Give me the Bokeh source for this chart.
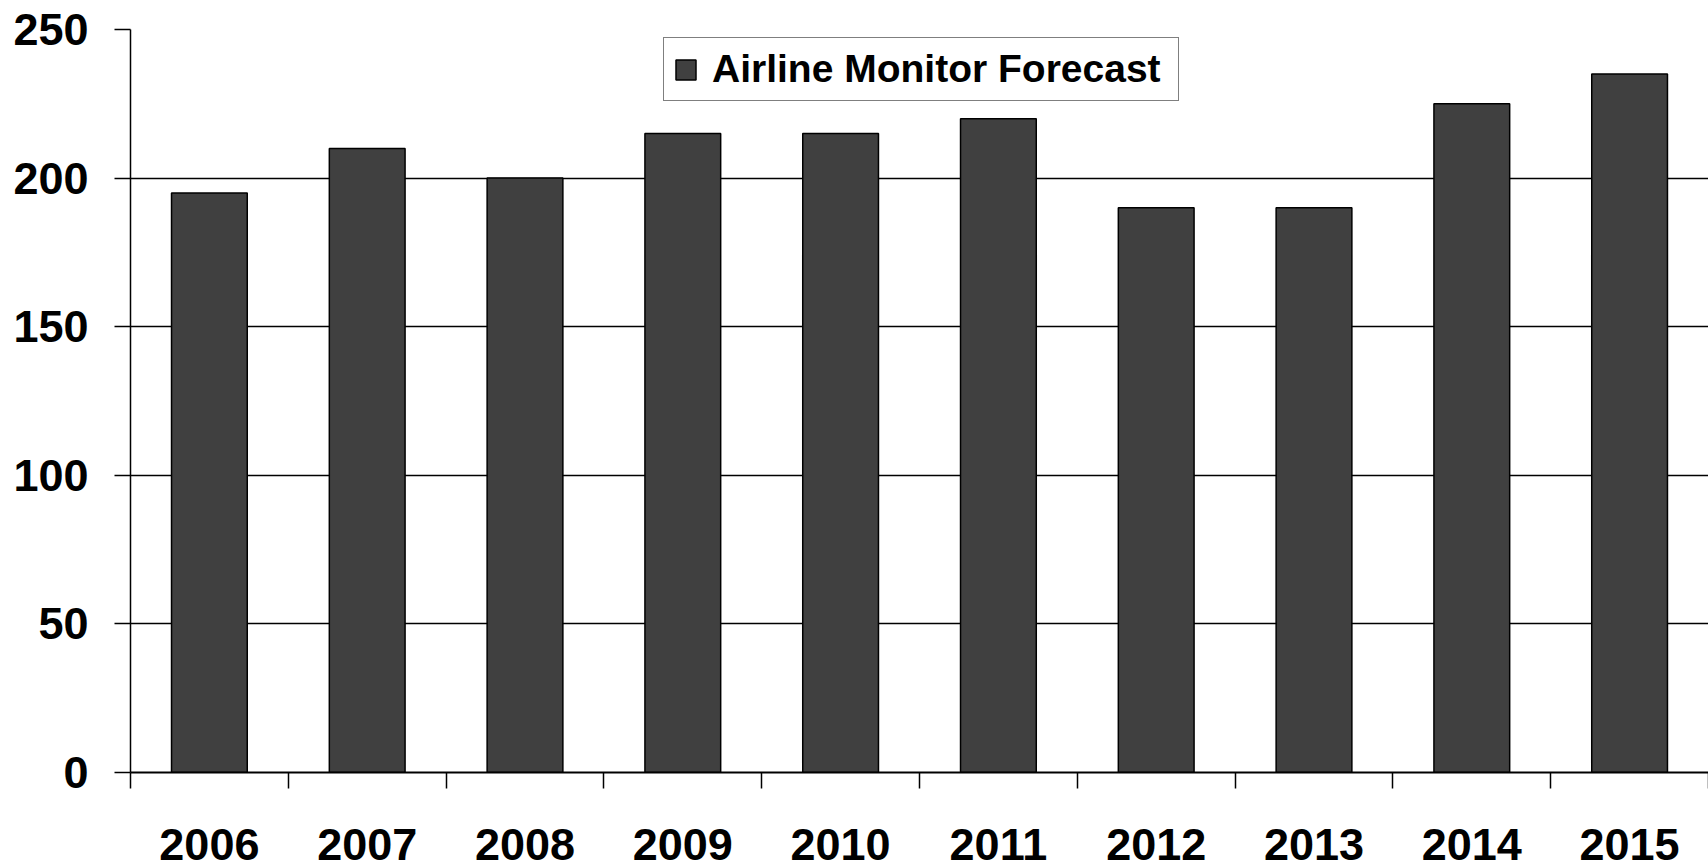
from bokeh.plotting import figure
from bokeh.models import FixedTicker, Range1d, Legend, LegendItem, ColumnDataSource
from bokeh.embed import file_html
from bokeh.resources import INLINE

# Forecast values per year
years = ["2006", "2007", "2008", "2009", "2010", "2011", "2012", "2013", "2014", "2015"]
forecast = [195, 210, 200, 215, 215, 220, 190, 190, 225, 235]
y_ticks = [0, 50, 100, 150, 200, 250]
series_name = "Airline Monitor Forecast"

FONT = "Liberation Sans"
n = len(years)
centers = [i + 0.5 for i in range(n)]
bounds = list(range(n + 1))

src = ColumnDataSource(dict(x=centers, top=forecast, year=years))

p = figure(
    width=1708, height=866,
    x_range=Range1d(0, n), y_range=Range1d(0, 250),
    output_backend="svg", toolbar_location=None,
    min_border_left=130, min_border_right=0,
    min_border_top=29, min_border_bottom=94,
)
p.outline_line_color = None
p.background_fill_color = "white"
p.border_fill_color = "white"

bars = p.vbar(x="x", top="top", bottom=0, width=0.48, source=src,
              fill_color="#404040", line_color="black", line_width=1.5)

# Horizontal gridlines
p.xgrid.visible = False
p.ygrid.grid_line_color = "black"
p.ygrid.grid_line_width = 1.5
p.ygrid.ticker = FixedTicker(ticks=y_ticks)

# Y axis
ya = p.yaxis[0]
ya.ticker = FixedTicker(ticks=y_ticks)
ya.axis_line_color = "black"
ya.axis_line_width = 1.5
ya.major_tick_in = 0
ya.major_tick_out = 16
ya.major_tick_line_width = 1.5
ya.minor_tick_line_color = None
ya.major_label_standoff = 26
ya.major_label_text_font = FONT
ya.major_label_text_font_style = "bold"
ya.major_label_text_font_size = "45px"
ya.major_label_text_color = "black"

# X axis: labels at category centres, tick marks at category boundaries
xa = p.xaxis[0]
xa.ticker = FixedTicker(ticks=centers, minor_ticks=bounds)
xa.major_label_overrides = {c: y for c, y in zip(centers, years)}
xa.axis_line_color = "black"
xa.axis_line_width = 2
xa.major_tick_in = 0
xa.major_tick_out = 0
xa.major_tick_line_color = None
xa.minor_tick_in = 0
xa.minor_tick_out = 16
xa.minor_tick_line_color = "black"
xa.minor_tick_line_width = 1.5
xa.major_label_standoff = 40
xa.major_label_text_font = FONT
xa.major_label_text_font_style = "bold"
xa.major_label_text_font_size = "45px"
xa.major_label_text_color = "black"

legend = Legend(
    items=[LegendItem(label=series_name, renderers=[bars])],
    location=(533, 671),
    orientation="horizontal",
    border_line_color="black",
    border_line_width=1.5,
    background_fill_color="white",
    background_fill_alpha=1.0,
    label_text_font=FONT,
    label_text_font_style="bold",
    label_text_font_size="39px",
    label_text_color="black",
    glyph_width=25,
    glyph_height=25,
    label_standoff=14,
    label_width=457,
    padding=9,
    margin=0,
    spacing=0,
)
p.add_layout(legend)

open("out.html", "w").write(file_html(p, INLINE))
